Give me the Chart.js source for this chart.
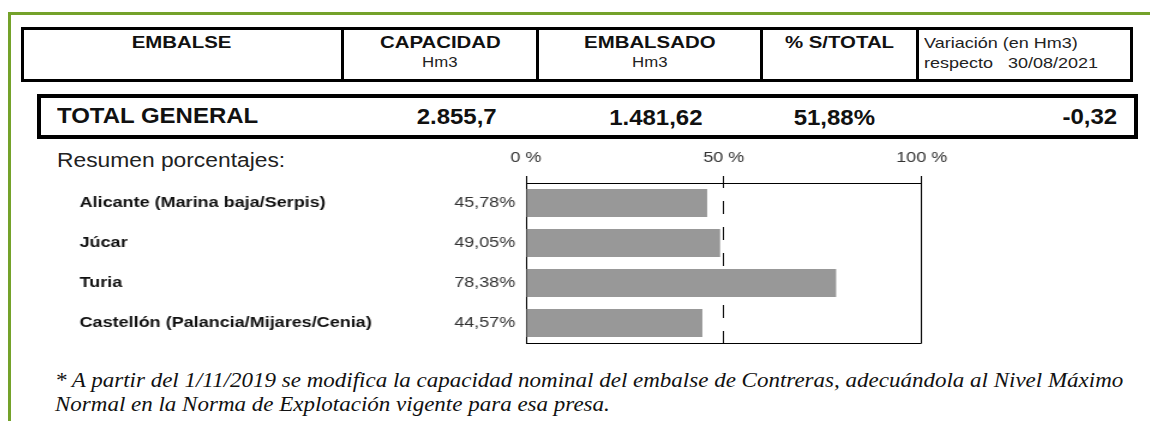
<!DOCTYPE html>
<html>
<head>
<meta charset="utf-8">
<script src="https://cdn.jsdelivr.net/npm/chart.js@4/dist/chart.umd.min.js"></script>
<style>
  html, body { margin: 0; padding: 0; background: #fff; }
  body { width: 1150px; height: 421px; position: relative; overflow: hidden; font-family: "Liberation Sans", Arial, sans-serif; color: #111; }
  .abs { position: absolute; }
  .box { position: absolute; box-sizing: border-box; border: 3px solid #000; }
  .vline { position: absolute; width: 3px; background: #000; }
  .t { position: absolute; white-space: nowrap; line-height: 1; }
  .t span { display: inline-block; transform: scaleX(1.2); }
  .c { text-align: center; } .c span { transform-origin: center; }
  .l { text-align: left; } .l span { transform-origin: left; }
  .r { text-align: right; } .r span { transform-origin: right; }
  .hd { font-weight: bold; font-size: 17px; }
  .sub { font-size: 14px; color: #222; }
  .tot { font-weight: bold; font-size: 22px; }
  .t.tot span { transform: scaleX(1.09); }
  .note { font-family: "Liberation Serif", "Times New Roman", serif; font-style: italic; font-size: 21px; color: #111; }
  .t.note span { transform: scaleX(1.095); }
  #chartWrap { position: absolute; left: 70px; top: 140px; }
  #chartWrap canvas { transform: scaleX(1.2); transform-origin: 0 0; }
</style>
</head>
<body>
<div class="abs" style="left:8px;top:12px;width:1160px;height:420px;border-top:3px solid #74a22a;border-left:3px solid #74a22a;"></div>

<!-- header row -->
<div class="box" style="left:21px;top:27px;width:1112px;height:55px;"></div>
<div class="vline" style="left:341px;top:27px;height:55px;"></div>
<div class="vline" style="left:536px;top:27px;height:55px;"></div>
<div class="vline" style="left:760px;top:27px;height:55px;"></div>
<div class="vline" style="left:916px;top:27px;height:55px;"></div>

<div class="t c hd" style="left:21px;width:321px;top:34px;"><span>EMBALSE</span></div>
<div class="t c hd" style="left:342px;width:196px;top:34px;"><span>CAPACIDAD</span></div>
<div class="t c sub" style="left:342px;width:196px;top:55px;"><span>Hm3</span></div>
<div class="t c hd" style="left:537px;width:225px;top:34px;"><span>EMBALSADO</span></div>
<div class="t c sub" style="left:537px;width:225px;top:55px;"><span>Hm3</span></div>
<div class="t c hd" style="left:761px;width:157px;top:34px;"><span>% S/TOTAL</span></div>
<div class="t l" style="left:924px;top:35px;font-size:15px;color:#222;"><span>Variación (en Hm3)</span></div>
<div class="t l" style="left:924px;top:55px;font-size:15px;color:#222;"><span>respecto&nbsp;&nbsp; 30/08/2021</span></div>

<!-- total row -->
<div class="box" style="left:37px;top:94px;width:1101px;height:45px;border-width:4px;"></div>
<div class="t l tot" style="left:57px;top:105px;"><span>TOTAL GENERAL</span></div>
<div class="t c tot" style="left:357px;width:200px;top:106px;"><span>2.855,7</span></div>
<div class="t c tot" style="left:556px;width:200px;top:107px;"><span>1.481,62</span></div>
<div class="t c tot" style="left:734px;width:200px;top:107px;"><span>51,88%</span></div>
<div class="t r tot" style="left:917px;width:200px;top:106px;"><span>-0,32</span></div>

<div class="t l" style="left:57px;top:150px;font-size:20px;color:#222;"><span style="transform:scaleX(1.14)">Resumen porcentajes:</span></div>

<div id="chartWrap"><canvas id="resumenChart" width="740" height="221"></canvas></div>

<div class="t l note" style="left:55px;top:370px;"><span>* A partir del 1/11/2019 se modifica la capacidad nominal del embalse de Contreras, adecuándola al Nivel Máximo</span></div>
<div class="t l note" style="left:55px;top:394px;"><span>Normal en la Norma de Explotación vigente para esa presa.</span></div>

<script>
const categories = ['Alicante (Marina baja/Serpis)', 'Júcar', 'Turia', 'Castellón (Palancia/Mijares/Cenia)'];
const percentFilled = [45.78, 49.05, 78.38, 44.57];
const axisTicks = [0, 50, 100];

const percentLabels = percentFilled.map(v => v.toFixed(2).replace('.', ',') + '%');

// bottom line of the box (top/left/right come from the axes)
const frameBottom = {
  id: 'frameBottom',
  afterDatasetsDraw(chart) {
    const a = chart.chartArea;
    const ctx = chart.ctx;
    ctx.save();
    ctx.strokeStyle = '#000';
    ctx.lineWidth = 1;
    ctx.beginPath();
    ctx.moveTo(a.left, a.bottom + 0.5);
    ctx.lineTo(a.right, a.bottom + 0.5);
    ctx.stroke();
    ctx.restore();
  }
};

const ctx = document.getElementById('resumenChart').getContext('2d');

new Chart(ctx, {
  type: 'bar',
  data: {
    labels: categories,
    datasets: [{
      data: percentFilled,
      backgroundColor: '#989898',
      borderWidth: 0,
      barPercentage: 0.7,
      categoryPercentage: 1,
      xAxisID: 'x',
      yAxisID: 'y'
    }]
  },
  options: {
    indexAxis: 'y',
    responsive: false,
    animation: false,
    devicePixelRatio: 1,
    layout: { padding: { left: 8, right: 30, top: 0, bottom: 0 } },
    plugins: { legend: { display: false }, tooltip: { enabled: false } },
    scales: {
      x: {
        type: 'linear',
        position: 'top',
        min: 0,
        max: 100,
        afterBuildTicks: s => { s.ticks = axisTicks.map(v => ({ value: v })); },
        afterFit: s => { s.height = 43; },
        ticks: {
          padding: 9,
          color: '#333',
          font: { family: 'Liberation Sans', size: 15 },
          callback: v => v + ' %'
        },
        grid: {
          color: c => (c.tick && c.tick.value === 0) ? 'rgba(0,0,0,0)' : '#000',
          lineWidth: 1,
          tickColor: '#000',
          tickLength: 7
        },
        border: {
          display: true,
          color: '#000',
          width: 1,
          dash: c => (c.tick && c.tick.value === 50) ? [13, 13] : [],
          dashOffset: 9
        }
      },
      y: {
        type: 'category',
        position: 'left',
        weight: 2,
        offset: true,
        afterFit: s => { s.width = 292; },
        grid: { display: false, drawTicks: false },
        border: { display: false },
        ticks: {
          crossAlign: 'far',
          color: '#111',
          font: { family: 'Liberation Sans', size: 15, weight: 'bold' }
        }
      },
      y1: {
        type: 'category',
        position: 'left',
        weight: 1,
        offset: true,
        labels: percentLabels,
        afterFit: s => { s.width = 80; },
        grid: { display: false, drawTicks: false },
        border: { display: true, color: '#000', width: 1 },
        ticks: {
          padding: 9,
          color: '#333',
          font: { family: 'Liberation Sans', size: 15 }
        }
      }
    }
  },
  plugins: [frameBottom]
});
</script>
</body>
</html>
